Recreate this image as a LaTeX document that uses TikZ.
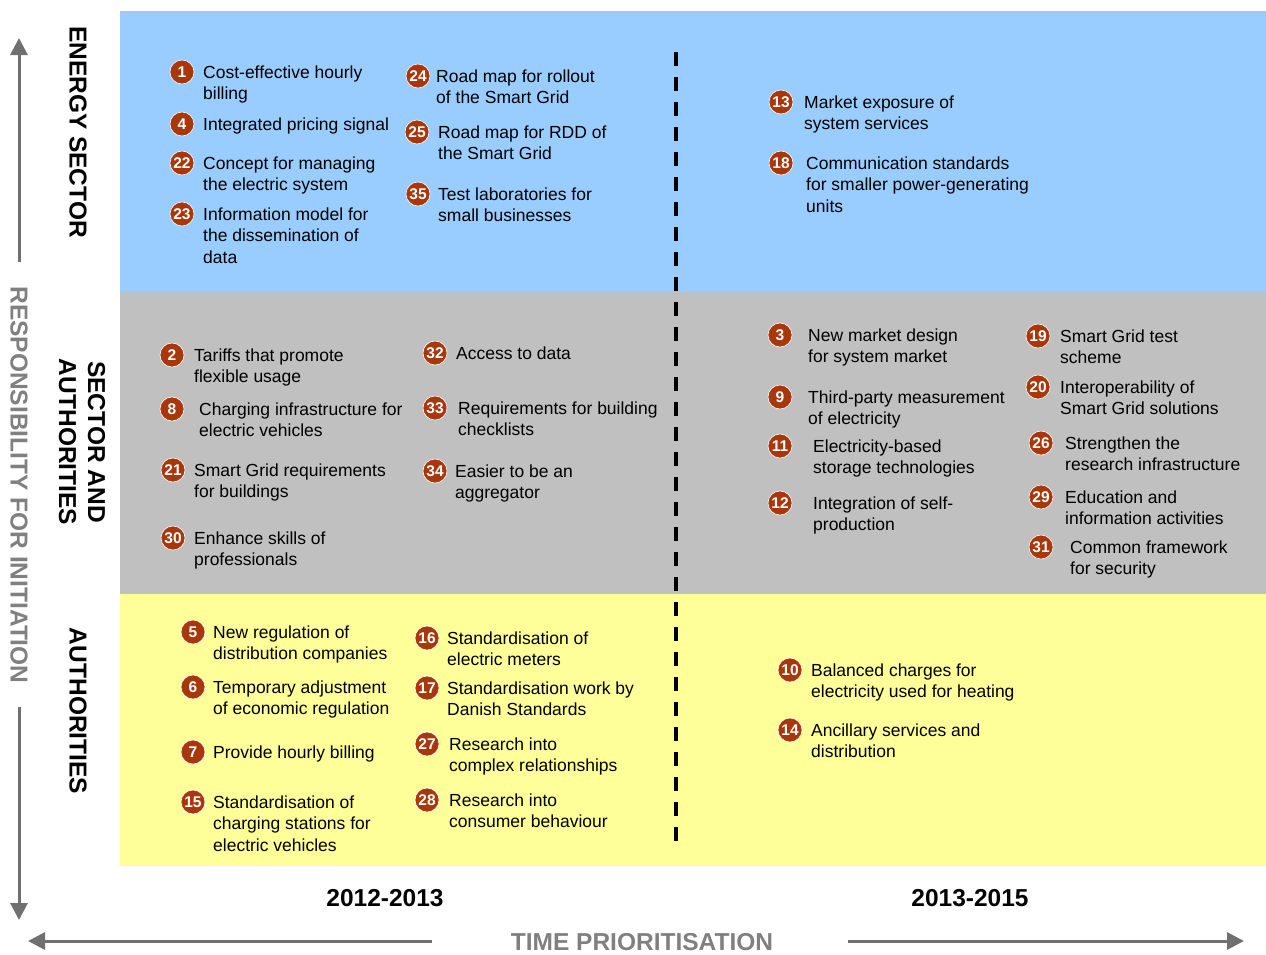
\documentclass[tikz,border=0pt]{standalone}
\usepackage{fontspec}
\setmainfont{Liberation Sans}
\usetikzlibrary{arrows.meta}
\definecolor{bandblue}{HTML}{99CCFF}
\definecolor{bandgrey}{HTML}{C0C0C0}
\definecolor{bandyellow}{HTML}{FFFF99}
\definecolor{badgecol}{HTML}{A8380C}
\definecolor{axisgrey}{HTML}{707070}
\definecolor{labgrey}{HTML}{808080}
\tikzset{
  badge/.style={circle,fill=badgecol,draw=white,line width=0.6pt,minimum size=24pt,inner sep=0pt,
    text=white,font=\fontsize{15.5}{15.5}\bfseries\selectfont},
  item/.style={anchor=north west,inner sep=0pt,align=left,font=\fontsize{17.5}{21.5}\selectfont},
  sidelab/.style={rotate=-90,align=center,font=\fontsize{24.5}{29}\bfseries\selectfont},
  axislab/.style={text=labgrey,font=\fontsize{24.5}{29}\bfseries\selectfont},
  yearlab/.style={font=\fontsize{24.5}{29}\bfseries\selectfont},
  axisarrow/.style={draw=axisgrey,line width=3pt,-{Triangle[length=17pt,width=17pt]}},
  divider/.style={draw=black,line width=3.5pt,dash pattern=on 14pt off 11pt}
}
\newcommand{\itm}[6]{% name, number, cx, cy, tx, text
  \node[badge] (b#1) at (#3,#4) {#2};
  \node[item] (t#1) at (#5,#4-6.5) {#6};
}
\begin{document}
\begin{tikzpicture}[x=1pt,y=-1pt]
\useasboundingbox (0,0) rectangle (1266,954);
% bands
\fill[bandblue] (120,11) rectangle (1266,291);
\fill[bandgrey] (120,291) rectangle (1266,594);
\fill[bandyellow] (120,594) rectangle (1266,866);
% divider
\coordinate (dtop) at (676,52);
\coordinate (dbot) at (676,842);
\draw[divider] (dtop) -- (dbot);

% Energy sector
\itm{1}{1}{182}{72}{203}{Cost-effective hourly\\billing}
\itm{4}{4}{182}{124}{203}{Integrated pricing signal}
\itm{22}{22}{182}{163}{203}{Concept for managing\\the electric system}
\itm{23}{23}{182}{214}{203}{Information model for\\the dissemination of\\data}
\itm{24}{24}{418}{76}{436}{Road map for rollout\\of the Smart Grid}
\itm{25}{25}{417}{132}{438}{Road map for RDD of\\the Smart Grid}
\itm{35}{35}{418}{194}{438}{Test laboratories for\\small businesses}
\itm{13}{13}{781}{102}{804}{Market exposure of\\system services}
\itm{18}{18}{781}{163}{806}{Communication standards\\for smaller power-generating\\units}

% Sector and authorities
\itm{2}{2}{172}{355}{194}{Tariffs that promote\\flexible usage}
\itm{8}{8}{172}{409}{199}{Charging infrastructure for\\electric vehicles}
\itm{21}{21}{173}{470}{194}{Smart Grid requirements\\for buildings}
\itm{30}{30}{173}{538}{194}{Enhance skills of\\professionals}
\itm{32}{32}{435}{353}{456}{Access to data}
\itm{33}{33}{435}{408}{458}{Requirements for building\\checklists}
\itm{34}{34}{435}{471}{455}{Easier to be an\\aggregator}
\itm{3}{3}{780}{335}{808}{New market design\\for system market}
\itm{9}{9}{780}{397}{808}{Third-party measurement\\of electricity}
\itm{11}{11}{780}{446}{813}{Electricity-based\\storage technologies}
\itm{12}{12}{780}{503}{813}{Integration of self-\\production}
\itm{19}{19}{1038}{336}{1060}{Smart Grid test\\scheme}
\itm{20}{20}{1038}{387}{1060}{Interoperability of\\Smart Grid solutions}
\itm{26}{26}{1041}{443}{1065}{Strengthen the\\research infrastructure}
\itm{29}{29}{1041}{497}{1065}{Education and\\information activities}
\itm{31}{31}{1041}{547}{1070}{Common framework\\for security}

% Authorities
\itm{5}{5}{193}{632}{213}{New regulation of\\distribution companies}
\itm{6}{6}{193}{687}{213}{Temporary adjustment\\of economic regulation}
\itm{7}{7}{193}{752}{213}{Provide hourly billing}
\itm{15}{15}{193}{802}{213}{Standardisation of\\charging stations for\\electric vehicles}
\itm{16}{16}{427}{638}{447}{Standardisation of\\electric meters}
\itm{17}{17}{427}{688}{447}{Standardisation work by\\Danish Standards}
\itm{27}{27}{427}{744}{449}{Research into\\complex relationships}
\itm{28}{28}{427}{800}{449}{Research into\\consumer behaviour}
\itm{10}{10}{790}{670}{811}{Balanced charges for\\electricity used for heating}
\itm{14}{14}{790}{730}{811}{Ancillary services and\\distribution}

% side labels
\node[sidelab] (lenergy) at (78,132) {ENERGY SECTOR};
\node[sidelab] (lsector) at (82,442) {SECTOR AND\\AUTHORITIES};
\node[sidelab] (lauth) at (78,711) {AUTHORITIES};

% vertical axis
\node[axislab,rotate=-90] (resp) at (19,485) {RESPONSIBILITY FOR INITIATION};
\coordinate (vtop) at (19,38);
\coordinate (vbot) at (19,920);
\coordinate (vup) at (19,262);
\coordinate (vdown) at (19,707);
\draw[axisarrow] (vup) -- (vtop);
\draw[axisarrow] (vdown) -- (vbot);

% years
\node[yearlab] (y1) at (385,898) {2012-2013};
\node[yearlab] (y2) at (970,898) {2013-2015};

% horizontal axis
\node[axislab] (time) at (642,942) {TIME PRIORITISATION};
\coordinate (hleft) at (28,941);
\coordinate (hright) at (1244,941);
\coordinate (hl) at (432,941);
\coordinate (hr) at (848,941);
\draw[axisarrow] (hl) -- (hleft);
\draw[axisarrow] (hr) -- (hright);
\end{tikzpicture}
\end{document}
